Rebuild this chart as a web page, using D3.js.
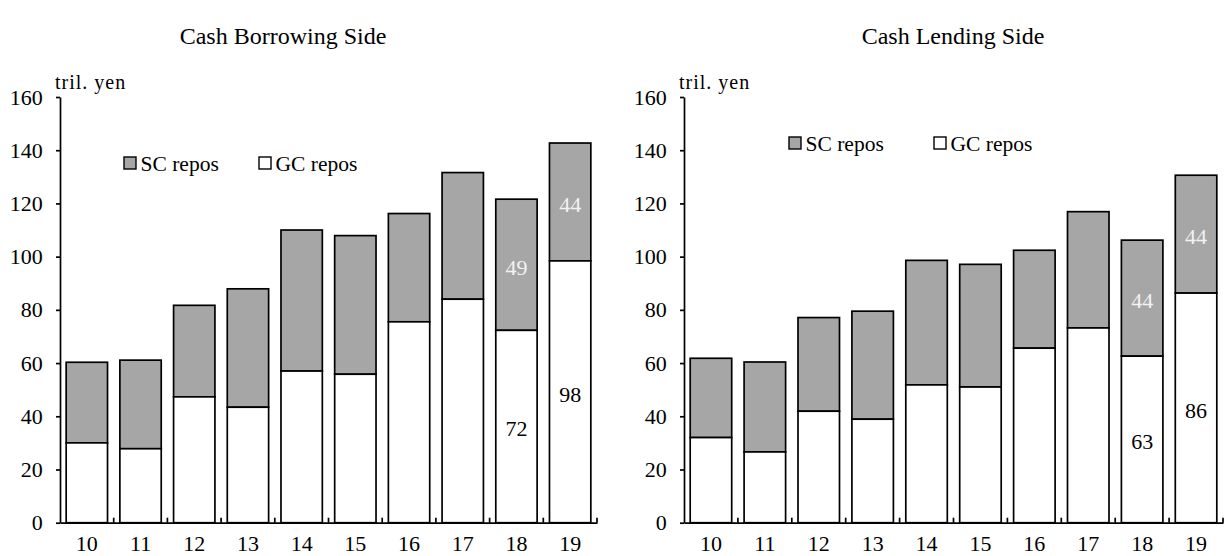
<!DOCTYPE html>
<html>
<head>
<meta charset="utf-8">
<script src="https://cdn.jsdelivr.net/npm/d3@7"></script>
<style>
  body { margin: 0; background: #fff; }
  svg { display: block; }
</style>
</head>
<body>
<svg id="chart"></svg>
<script>
const years = ["10", "11", "12", "13", "14", "15", "16", "17", "18", "19"];

// cash borrowing side, tril. yen
const borrowGC = [30, 27.8, 47.3, 43.4, 57, 55.8, 75.5, 84, 72.3, 98.4];
const borrowSC = [30.3, 33.3, 34.4, 44.5, 53, 52.1, 40.7, 47.6, 49.3, 44.3];

// cash lending side, tril. yen
const lendGC = [32, 26.6, 41.9, 38.9, 51.8, 51, 65.6, 73.2, 62.6, 86.3];
const lendSC = [29.8, 33.8, 35.2, 40.6, 46.8, 46.1, 36.8, 43.7, 43.6, 44.3];

const labelYears = ["18", "19"];
const yTicks = [0, 20, 40, 60, 80, 100, 120, 140, 160];
const seriesNames = ["SC repos", "GC repos"];
const titles = ["Cash Borrowing Side", "Cash Lending Side"];

const FONT = "'Liberation Serif', 'Times New Roman', serif";
const W = 1229, H = 556;

const svg = d3.select("#chart").attr("width", W).attr("height", H);

const y = d3.scaleLinear().domain([0, 160]).range([522.7, 97]);

function drawPanel(p) {
  const g = svg.append("g").attr("font-family", FONT);
  const x = d3.scaleBand().domain(years).range([p.x0, p.x1])
    .paddingInner(0.23).paddingOuter(0.115);
  const rows = years.map((yr, i) => ({ yr, gc: p.gc[i], sc: p.sc[i] }));

  g.append("text")
    .attr("x", p.titleX).attr("y", 44)
    .attr("text-anchor", "middle").attr("font-size", 24)
    .text(p.title);

  g.append("text")
    .attr("x", p.x0 - 5).attr("y", 88.5)
    .attr("font-size", 20).attr("letter-spacing", 1)
    .text("tril. yen");

  const bars = g.append("g").selectAll("g").data(rows).join("g");
  bars.append("rect")
    .attr("x", d => x(d.yr)).attr("width", x.bandwidth())
    .attr("y", d => y(d.gc + d.sc))
    .attr("height", d => y(d.gc) - y(d.gc + d.sc))
    .attr("fill", "#a6a6a6").attr("stroke", "#000").attr("stroke-width", 1.7);
  bars.append("rect")
    .attr("x", d => x(d.yr)).attr("width", x.bandwidth())
    .attr("y", d => y(d.gc))
    .attr("height", d => y(0) - y(d.gc))
    .attr("fill", "#fff").attr("stroke", "#000").attr("stroke-width", 1.7);

  const lab = g.append("g").attr("font-size", 22).attr("text-anchor", "middle")
    .selectAll("g").data(rows.filter(d => labelYears.includes(d.yr))).join("g");
  lab.append("text")
    .attr("x", d => x(d.yr) + x.bandwidth() / 2)
    .attr("y", d => y(d.gc / 2)).attr("dy", "0.45em")
    .attr("fill", "#000")
    .text(d => Math.round(d.gc));
  lab.append("text")
    .attr("x", d => x(d.yr) + x.bandwidth() / 2)
    .attr("y", d => y(d.gc + d.sc / 2)).attr("dy", "0.45em")
    .attr("fill", "#f2f2f2")
    .text(d => Math.round(d.sc));

  const ya = g.append("g")
    .attr("transform", `translate(${p.x0},0)`)
    .call(d3.axisLeft(y).tickValues(yTicks).tickSize(4).tickSizeOuter(0).tickPadding(13.3));
  ya.attr("font-family", FONT).attr("font-size", 22);
  ya.selectAll("path, line").attr("stroke", "#000").attr("stroke-width", 1.7);
  ya.selectAll("text").attr("fill", "#000");

  const xa = g.append("g")
    .attr("transform", `translate(0,${y(0)})`)
    .call(d3.axisBottom(x).tickSize(0).tickSizeOuter(0).tickPadding(13));
  xa.attr("font-family", FONT).attr("font-size", 22);
  xa.select(".domain").attr("stroke", "#000").attr("stroke-width", 1.7);
  xa.selectAll("text").attr("fill", "#000");
  xa.selectAll(".sep").data(years).join("line")
    .attr("class", "sep")
    .attr("x1", d => x(d) + x.bandwidth() + x.step() * x.paddingInner() / 2)
    .attr("x2", d => x(d) + x.bandwidth() + x.step() * x.paddingInner() / 2)
    .attr("y1", 0).attr("y2", -5)
    .attr("stroke", "#000").attr("stroke-width", 1.7);

  const leg = g.append("g").attr("font-size", 21.5)
    .selectAll("g").data(seriesNames).join("g")
    .attr("transform", (d, i) => `translate(${p.legendX[i]},${p.legendY})`);
  leg.append("rect")
    .attr("x", 0).attr("y", -6).attr("width", 12).attr("height", 12)
    .attr("fill", (d, i) => i === 0 ? "#a6a6a6" : "#fff")
    .attr("stroke", "#000").attr("stroke-width", 1.4);
  leg.append("text")
    .attr("x", 16.5).attr("dy", "0.35em")
    .text(d => d);
}

drawPanel({
  title: titles[0], titleX: 283, x0: 60, x1: 597,
  gc: borrowGC, sc: borrowSC,
  legendX: [124, 259], legendY: 163
});

drawPanel({
  title: titles[1], titleX: 953, x0: 684, x1: 1223,
  gc: lendGC, sc: lendSC,
  legendX: [789, 934], legendY: 143
});
</script>
</body>
</html>
